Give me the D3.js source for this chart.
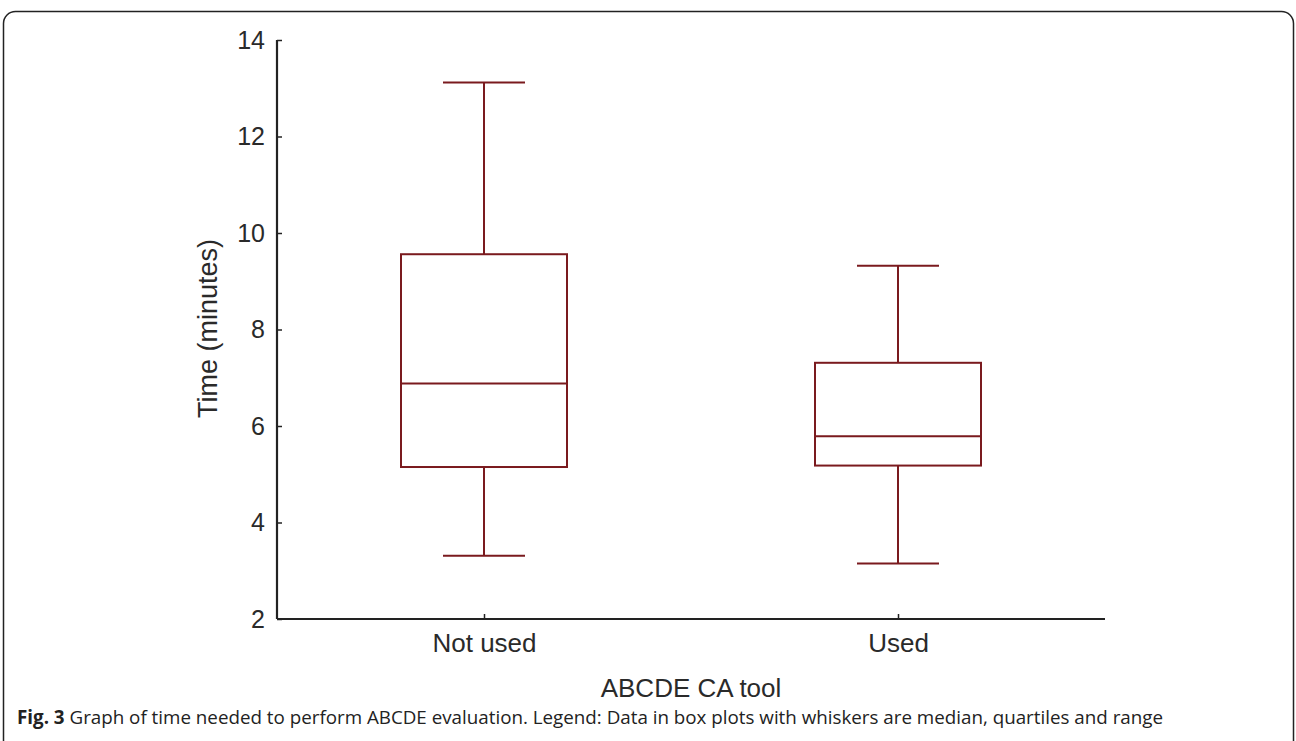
<!DOCTYPE html>
<html>
<head>
<meta charset="utf-8">
<script src="https://cdn.jsdelivr.net/npm/d3@7"></script>
<style>
  body { margin: 0; background: #fff; }
  text { font-family: "Liberation Sans", Arial, sans-serif; fill: #2a2a2a; }
  .caption { font-family: "Open Sans", sans-serif; fill: #222; }
</style>
</head>
<body>
<svg id="chart"></svg>
<script>
// box plot values (minutes)
const groups = ['Not used', 'Used'];
const mins = [3.31, 3.15];
const q1s = [5.15, 5.18];
const medians = [6.88, 5.79];
const q3s = [9.56, 7.31];
const maxs = [13.12, 9.32];
const yTicks = [2, 4, 6, 8, 10, 12, 14];

const config = {
    width: 1296,
    height: 741,
    margin: {top: 40, right: 191, bottom: 122, left: 277}
};

const svg = d3.select('#chart')
    .attr('width', config.width)
    .attr('height', config.height);

// rounded frame around the figure
svg.append('rect')
    .attr('x', 3.5).attr('y', 11.5)
    .attr('width', 1290).attr('height', 760)
    .attr('rx', 12)
    .attr('fill', 'none')
    .attr('stroke', '#222')
    .attr('stroke-width', 1.5);

const innerW = config.width - config.margin.left - config.margin.right;
const innerH = config.height - config.margin.top - config.margin.bottom;

const chart = svg.append('g')
    .attr('transform', `translate(${config.margin.left},${config.margin.top})`);

const xScale = d3.scalePoint()
    .domain(groups)
    .range([0, innerW])
    .padding(0.5);

const yScale = d3.scaleLinear()
    .domain([2, 14])
    .range([innerH, 0]);

const xAxis = d3.axisBottom(xScale).tickSize(-5).tickPadding(15);
const yAxis = d3.axisLeft(yScale).tickValues(yTicks).tickSize(-5).tickPadding(12);

const xAxisG = chart.append('g')
    .attr('transform', `translate(0,${innerH})`)
    .call(xAxis);
xAxisG.select('.domain').attr('d', `M0,0H${innerW}`);

const yAxisG = chart.append('g').call(yAxis);
yAxisG.select('.domain').attr('d', `M0,${innerH}V0`);

[xAxisG, yAxisG].forEach(g => {
    g.selectAll('.domain').attr('stroke', '#222').attr('stroke-width', 2.2);
    g.selectAll('.tick line').attr('stroke', '#222').attr('stroke-width', 1.5);
    g.selectAll('.tick text').attr('font-size', 25).attr('fill', '#2a2a2a')
        .style('font-family', '"Liberation Sans", Arial, sans-serif');
});
xAxisG.selectAll('.tick text').attr('font-size', 26);

// axis titles
chart.append('text')
    .attr('transform', `translate(-60,${innerH / 2 - 1}) rotate(-90)`)
    .attr('text-anchor', 'middle')
    .attr('font-size', 27)
    .text('Time (minutes)');

chart.append('text')
    .attr('x', innerW / 2)
    .attr('y', innerH + 78)
    .attr('text-anchor', 'middle')
    .attr('font-size', 26)
    .text('ABCDE CA tool');

// boxes
const color = '#7a1a1e';
const boxHalf = 83;
const capHalf = 41;

const boxes = chart.selectAll('.box')
    .data(groups)
    .join('g')
    .attr('class', 'box')
    .attr('transform', d => `translate(${xScale(d)},0)`);

boxes.append('line')
    .attr('x1', 0).attr('x2', 0)
    .attr('y1', (d, i) => yScale(maxs[i]))
    .attr('y2', (d, i) => yScale(q3s[i]));

boxes.append('line')
    .attr('x1', 0).attr('x2', 0)
    .attr('y1', (d, i) => yScale(q1s[i]))
    .attr('y2', (d, i) => yScale(mins[i]));

boxes.append('line')
    .attr('x1', -capHalf).attr('x2', capHalf)
    .attr('y1', (d, i) => yScale(maxs[i]))
    .attr('y2', (d, i) => yScale(maxs[i]));

boxes.append('line')
    .attr('x1', -capHalf).attr('x2', capHalf)
    .attr('y1', (d, i) => yScale(mins[i]))
    .attr('y2', (d, i) => yScale(mins[i]));

boxes.append('rect')
    .attr('x', -boxHalf)
    .attr('width', boxHalf * 2)
    .attr('y', (d, i) => yScale(q3s[i]))
    .attr('height', (d, i) => yScale(q1s[i]) - yScale(q3s[i]))
    .attr('fill', 'none');

boxes.append('line')
    .attr('x1', -boxHalf).attr('x2', boxHalf)
    .attr('y1', (d, i) => yScale(medians[i]))
    .attr('y2', (d, i) => yScale(medians[i]));

boxes.selectAll('line, rect')
    .attr('stroke', color)
    .attr('stroke-width', 2);

// caption
const cap = svg.append('text')
    .attr('class', 'caption')
    .attr('x', 17)
    .attr('y', 724)
    .attr('font-size', 19)
    .attr('textLength', 1146)
    .attr('lengthAdjust', 'spacingAndGlyphs');
cap.append('tspan').attr('font-weight', 'bold').text('Fig. 3');
cap.append('tspan').text(' Graph of time needed to perform ABCDE evaluation. Legend: Data in box plots with whiskers are median, quartiles and range');
</script>
</body>
</html>
